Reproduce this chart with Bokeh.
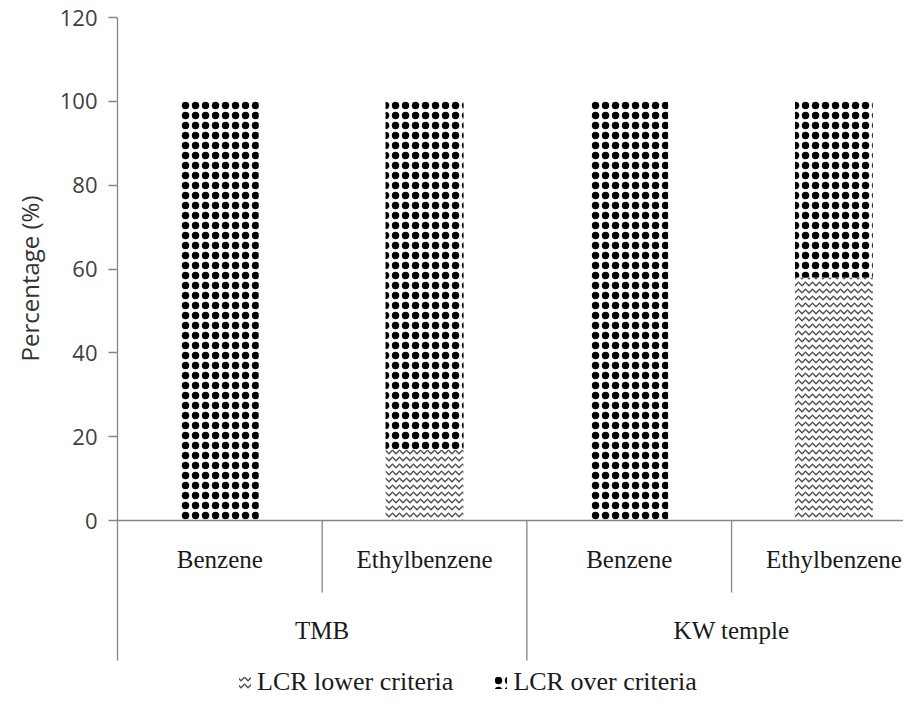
import math
from bokeh.plotting import figure
from bokeh.models import Range1d, FixedTicker, Legend, LegendItem, Title, ColumnDataSource
from bokeh.core.properties import value
from bokeh.embed import file_html
from bokeh.resources import INLINE

# ---- data ----
sites = ["TMB", "TMB", "KW temple", "KW temple"]
compounds = ["Benzene", "Ethylbenzene", "Benzene", "Ethylbenzene"]
lcr_lower = [0, 17, 0, 58]
lcr_over = [100, 83, 100, 42]
y_ticks = [0, 20, 40, 60, 80, 100, 120]
series_names = ["LCR lower criteria", "LCR over criteria"]
y_label = "Percentage (%)"

# ---- layout constants ----
W, H = 903, 699
X_END = 3.84
Y_MIN, Y_MAX = -42.7, 120
AXIS_BOTTOM = -33.4     # bottom of the long separators (group label area)
INNER_BOTTOM = -17.2    # bottom of short separators
COMP_Y = -9.3
SITE_Y = -26.2
BAR_W = 0.38
GRAY = "#868686"
SERIF = "Liberation Serif"

p = figure(width=W, height=H, output_backend="svg", toolbar_location=None,
           x_range=Range1d(0, X_END), y_range=Range1d(Y_MIN, Y_MAX),
           x_axis_location=None,
           min_border_left=117, min_border_right=0, min_border_top=17, min_border_bottom=0)
p.outline_line_color = None
p.grid.visible = False
p.background_fill_color = "white"

n = len(compounds)
xs = [i + 0.5 for i in range(n)]
tops = [l + o for l, o in zip(lcr_lower, lcr_over)]
src = ColumnDataSource(dict(x=xs, lower=lcr_lower, top=tops))

r_low = p.vbar(x="x", width=BAR_W, bottom=0, top="lower", source=src,
               fill_color="white", line_color=None,
               hatch_pattern="horizontal_wave", hatch_color="#505050",
               hatch_scale=7, hatch_weight=1.5)
# "over" series: ring + dot patterns layered give solid black dots on a 10px grid
r_over_ring = p.vbar(x="x", width=BAR_W, bottom="lower", top="top", source=src,
                     fill_color="white", line_color=None,
                     hatch_pattern="ring", hatch_color="black",
                     hatch_scale=10, hatch_weight=2.4)
r_over_dot = p.vbar(x="x", width=BAR_W, bottom="lower", top="top", source=src,
                    fill_alpha=0, line_color=None,
                    hatch_pattern="dot", hatch_color="black",
                    hatch_scale=10, hatch_weight=1)

# horizontal category axis line
p.segment(x0=[0], y0=[0], x1=[X_END], y1=[0], line_color=GRAY, line_width=1.3)

# separators
sep_x, sep_y1 = [], []
for i in range(1, n):
    sep_x.append(i)
    sep_y1.append(AXIS_BOTTOM if sites[i] != sites[i - 1] else INNER_BOTTOM)
p.segment(x0=sep_x, y0=[0] * len(sep_x), x1=sep_x, y1=sep_y1, line_color=GRAY, line_width=1.3)

# compound labels
p.text(x=xs, y=[COMP_Y] * n, text=compounds, text_align="center", text_baseline="middle",
       text_font=value(SERIF), text_font_size="25px", text_color="#1a1a1a")

# site labels
site_names, site_centers = [], []
for i, s in enumerate(sites):
    if not site_names or site_names[-1] != s:
        site_names.append(s)
        site_centers.append([xs[i]])
    else:
        site_centers[-1].append(xs[i])
site_x = [sum(c) / len(c) for c in site_centers]
p.text(x=site_x, y=[SITE_Y] * len(site_x), text=site_names, text_align="center",
       text_baseline="middle", text_font=value(SERIF), text_font_size="25px",
       text_color="#1a1a1a")

# y axis
ax = p.yaxis[0]
ax.ticker = FixedTicker(ticks=y_ticks)
ax.bounds = (AXIS_BOTTOM, Y_MAX)
ax.major_tick_out = 9
ax.major_tick_in = 0
ax.minor_tick_line_color = None
ax.axis_line_color = GRAY
ax.axis_line_width = 1.3
ax.major_tick_line_color = GRAY
ax.major_tick_line_width = 1.3
ax.major_label_text_font = "Open Sans"
ax.major_label_text_font_size = "22px"
ax.major_label_text_color = "#404040"
ax.major_label_standoff = 11

p.add_layout(Title(text=y_label, align="left", offset=338, standoff=21,
                   text_font="Open Sans", text_font_style="normal",
                   text_font_size="24px", text_color="#333333"), "left")

legend = Legend(items=[LegendItem(label=series_names[0], renderers=[r_low]),
                       LegendItem(label=series_names[1], renderers=[r_over_ring, r_over_dot])],
                orientation="horizontal", location=(120, 2),
                label_text_font=SERIF, label_text_font_size="26px",
                label_text_color="#1a1a1a", label_height=26,
                glyph_width=15, glyph_height=15, label_standoff=5, spacing=40,
                padding=0, margin=0, border_line_color=None, background_fill_alpha=0)
p.add_layout(legend)

open("out.html", "w").write(file_html(p, INLINE))
